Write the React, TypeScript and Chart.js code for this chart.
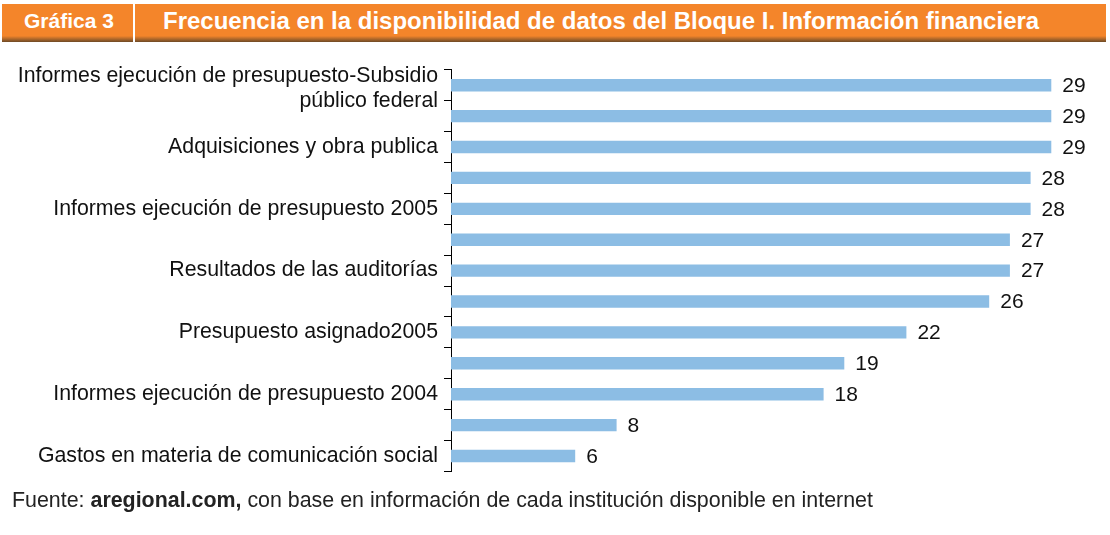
import React, { useEffect, useRef } from "react";
import { Chart, registerables } from "chart.js";

Chart.register(...registerables);

const categories: (string | string[])[] = [
  ["Informes ejecución de presupuesto-Subsidio", "público federal"],
  "",
  "Adquisiciones y obra publica",
  "",
  "Informes ejecución de presupuesto 2005",
  "",
  "Resultados de las auditorías",
  "",
  "Presupuesto asignado2005",
  "",
  "Informes ejecución de presupuesto 2004",
  "",
  "Gastos en materia de comunicación social",
];
const values: number[] = [29, 29, 29, 28, 28, 27, 27, 26, 22, 19, 18, 8, 6];

const FONT = "'Liberation Sans', Arial, Helvetica, sans-serif";
const LABEL_SIZE = 21.3;

const valueLabels = {
  id: "valueLabels",
  afterDatasetsDraw(chart: any) {
    const ctx = chart.ctx;
    const meta = chart.getDatasetMeta(0);
    ctx.save();
    ctx.font = `21px ${FONT}`;
    ctx.fillStyle = "#111";
    ctx.textAlign = "left";
    ctx.textBaseline = "middle";
    meta.data.forEach((bar: any, i: number) => {
      ctx.fillText(String(values[i]), bar.x + 11, bar.y + 1);
    });
    // first (two-line) category label, drawn slightly lower as in the original
    const y = chart.scales.y;
    const first = categories[0];
    const lines = Array.isArray(first) ? first : [first];
    const cy = y.getPixelForTick(0);
    ctx.font = `${LABEL_SIZE}px ${FONT}`;
    ctx.textAlign = "right";
    const xr = y.right - 7 - 6;
    lines.forEach((ln: string, k: number) => {
      ctx.fillText(ln, xr, cy - 9 + k * 25);
    });
    ctx.restore();
  },
};

export default function App() {
  const ref = useRef<HTMLCanvasElement>(null);
  useEffect(() => {
    if (!ref.current) return;
    const chart = new Chart(ref.current, {
      type: "bar",
      data: {
        labels: categories,
        datasets: [
          {
            data: values,
            backgroundColor: "#8CBDE4",
            borderWidth: 0,
            barPercentage: 0.4,
            categoryPercentage: 1,
          },
        ],
      },
      options: {
        indexAxis: "y",
        animation: false,
        responsive: false,
        maintainAspectRatio: false,
        layout: { padding: { top: 13.5, bottom: 8.5, left: 0, right: 38 } },
        plugins: { legend: { display: false }, tooltip: { enabled: false } },
        scales: {
          x: { display: false, min: 0, max: 30 },
          y: {
            afterFit: (scale: any) => {
              scale.width = 451;
            },
            grid: {
              offset: true,
              drawOnChartArea: false,
              drawTicks: true,
              tickLength: 7,
              color: "#000",
            },
            border: { display: true, color: "#000", width: 1 },
            ticks: {
              autoSkip: false,
              padding: 6,
              color: (c: any) => (c.index === 0 ? "rgba(0,0,0,0)" : "#111"),
              font: { family: FONT, size: LABEL_SIZE, lineHeight: 1.2 },
            },
          },
        },
      },
      plugins: [valueLabels],
    });
    return () => chart.destroy();
  }, []);

  return (
    <div style={{ position: "absolute", left: 0, top: 0, width: 1110, height: 535, background: "#fff", fontFamily: FONT }}>
      <div
        style={{
          position: "absolute",
          left: 2,
          top: 4,
          width: 1104,
          height: 38,
          background: "linear-gradient(to bottom, #F4852A 0%, #F4852A 84%, #B0682A 92%, #6E4A25 100%)",
          color: "#fff",
          fontWeight: "bold",
        }}
      >
        <div style={{ position: "absolute", left: 22, top: 5, fontSize: 21, lineHeight: "24px" }}>Gráfica 3</div>
        <div style={{ position: "absolute", left: 131, top: 0, width: 2, height: 38, background: "#fff" }} />
        <div style={{ position: "absolute", left: 161, top: 3, fontSize: 24, lineHeight: "28px" }}>
          Frecuencia en la disponibilidad de datos del Bloque I. Información financiera
        </div>
      </div>
      <canvas ref={ref} width={1110} height={452} style={{ position: "absolute", left: 0, top: 51 }} />
      <div style={{ position: "absolute", left: 12, top: 487, fontSize: 21.4, lineHeight: "26px", color: "#222", whiteSpace: "nowrap" }}>
        Fuente: <b>aregional.com,</b> con base en información de cada institución disponible en internet
      </div>
    </div>
  );
}
